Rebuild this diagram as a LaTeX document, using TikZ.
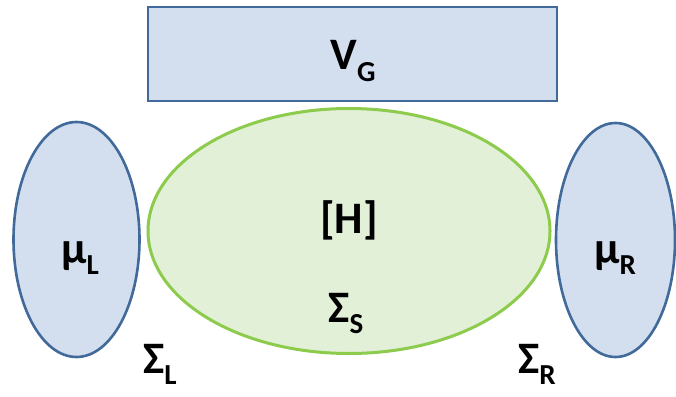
\documentclass[tikz,border=0pt]{standalone}
\usepackage{fontspec}
\setmainfont{Carlito}
\usetikzlibrary{shapes.geometric}
\definecolor{bluefill}{HTML}{D3DFEF}
\definecolor{blueline}{HTML}{41699A}
\definecolor{greenfill}{HTML}{E3F0D8}
\definecolor{greenline}{HTML}{8CCB4C}
\newcommand{\mysub}[1]{\raisebox{-11pt}{\fontsize{29}{29}\selectfont #1}}
\tikzset{
  bluebox/.style={draw=blueline, fill=bluefill, line width=2.6pt},
  greenbox/.style={draw=greenline, fill=greenfill, line width=3pt},
  lbl/.style={font=\bfseries\fontsize{45}{45}\selectfont, inner sep=0pt, anchor=base}
}
\begin{document}
\begin{tikzpicture}[x=1pt,y=-1pt]
\useasboundingbox (0,0) rectangle (676,396);
% gate
\node[bluebox, rectangle, minimum width=409pt, minimum height=94pt, inner sep=0pt] (gate) at (352.5,54) {};
% leads
\node[bluebox, ellipse, minimum width=126pt, minimum height=235pt, inner sep=0pt] (left) at (76.5,239.5) {};
\node[bluebox, ellipse, minimum width=119pt, minimum height=234pt, inner sep=0pt] (right) at (615.5,240) {};
% device
\node[greenbox, ellipse, minimum width=402pt, minimum height=245pt, inner sep=0pt] (dev) at (349,231) {};
% labels
\node[lbl] (vg) at (353,70) {V\mysub{G}};
\node[lbl] (h) at (349,233) {[H]};
\node[lbl] (ss) at (346,322) {Σ\mysub{S}};
\node[lbl] (ml) at (80,263) {μ\mysub{L}};
\node[lbl] (mr) at (615,263) {μ\mysub{R}};
\node[lbl] (sl) at (160,373) {Σ\mysub{L}};
\node[lbl] (sr) at (537,373) {Σ\mysub{R}};
\end{tikzpicture}
\end{document}
